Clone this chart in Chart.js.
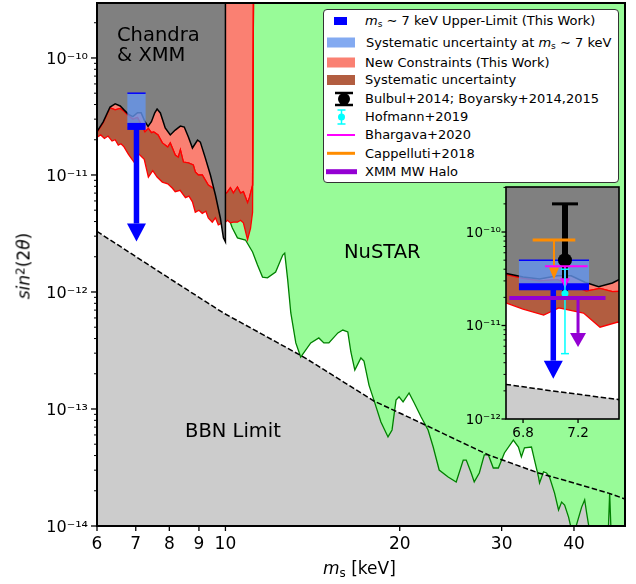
<!DOCTYPE html>
<html>
<head>
<meta charset="utf-8">
<script src="https://cdn.jsdelivr.net/npm/chart.js@4.4.1/dist/chart.umd.min.js"></script>
<style>
  html, body { margin: 0; padding: 0; background: #fff; }
  #wrap { position: relative; width: 636px; height: 584px; font-family: 'DejaVu Sans', sans-serif; color: #000; overflow: hidden; }
  canvas { position: absolute; }
  #main { left: 0; top: 0; }
  #inset { left: 450px; top: 184px; }
  .note { position: absolute; font-size: 19.5px; line-height: 1; white-space: nowrap; }
  .axt { position: absolute; font-size: 17px; line-height: 1; white-space: nowrap; }
  #legend { position: absolute; left: 323px; top: 9px; width: 296px; height: 174px; background: #fff; border: 1px solid #333; border-radius: 4px; box-sizing: border-box; }
  .row { position: absolute; left: 365px; font-size: 13px; line-height: 16px; white-space: nowrap; }
  sub { font-size: 70%; vertical-align: -0.25em; line-height: 0; }
  sup { font-size: 70%; vertical-align: 0.45em; line-height: 0; }
  #handles { position: absolute; left: 0; top: 0; }
</style>
</head>
<body>
<div id="wrap">
  <canvas id="main" width="636" height="584"></canvas>

  <div class="note" style="left:117px; top:25px;">Chandra</div>
  <div class="note" style="left:117px; top:44.5px;">&amp; XMM</div>
  <div class="note" style="left:344px; top:241.5px;">NuSTAR</div>
  <div class="note" style="left:185px; top:420.5px;">BBN Limit</div>

  <div class="axt" style="left:323px; top:559.5px;"><i>m</i><sub>s</sub> [keV]</div>
  <div class="axt" style="left:24px; top:266px; transform: translate(-50%, -50%) rotate(-90deg);"><i>sin</i><sup>2</sup>(2<i>θ</i>)</div>

  <div id="legend"></div>
  <svg id="handles" width="636" height="200">
    <rect x="334" y="17" width="13" height="8" fill="#0000ff"/>
    <rect x="327" y="37.5" width="28" height="10" fill="rgba(100,149,237,0.8)"/>
    <rect x="327" y="57.5" width="28" height="10" fill="#fa8072"/>
    <rect x="327" y="75" width="28" height="10" fill="#b25d40"/>
    <line x1="344" y1="93" x2="344" y2="105" stroke="#000" stroke-width="5"/>
    <line x1="335" y1="93" x2="353" y2="93" stroke="#000" stroke-width="2.5"/>
    <line x1="335" y1="105" x2="353" y2="105" stroke="#000" stroke-width="2.5"/>
    <circle cx="344" cy="99" r="6" fill="#000"/>
    <line x1="341.5" y1="110" x2="341.5" y2="124" stroke="#00ffff" stroke-width="1.5"/>
    <line x1="337.5" y1="110" x2="345.5" y2="110" stroke="#00ffff" stroke-width="1.5"/>
    <line x1="337.5" y1="124" x2="345.5" y2="124" stroke="#00ffff" stroke-width="1.5"/>
    <circle cx="341.5" cy="117" r="3.5" fill="#00ffff"/>
    <line x1="327" y1="135" x2="355" y2="135" stroke="#ff00ff" stroke-width="2"/>
    <line x1="327" y1="153.3" x2="355" y2="153.3" stroke="#ff8c00" stroke-width="3"/>
    <line x1="326" y1="171.7" x2="357" y2="171.7" stroke="#9400d3" stroke-width="5"/>
  </svg>
  <div class="row" style="top:12.5px;"><i>m</i><sub>s</sub> ∼ 7 keV Upper-Limit (This Work)</div>
  <div class="row" style="top:34.5px; left:366px;">Systematic uncertainty at <i>m</i><sub>s</sub> ∼ 7 keV</div>
  <div class="row" style="top:54.5px;">New Constraints (This Work)</div>
  <div class="row" style="top:72px;">Systematic uncertainty</div>
  <div class="row" style="top:91px;">Bulbul+2014; Boyarsky+2014,2015</div>
  <div class="row" style="top:108.5px;">Hofmann+2019</div>
  <div class="row" style="top:127px;">Bhargava+2020</div>
  <div class="row" style="top:145.5px;">Cappelluti+2018</div>
  <div class="row" style="top:163.5px;">XMM MW Halo</div>

  <canvas id="inset" width="172" height="264"></canvas>
</div>

<script>
// Chandra & XMM limit (black curve), keV vs sin^2(2theta)
const chandraX = [6.0, 6.15, 6.32, 6.45, 6.58, 6.68, 6.80, 6.92, 7.05, 7.15, 7.25, 7.35, 7.45, 7.55, 7.62, 7.72, 7.87, 8.03, 8.19, 8.36, 8.49, 8.63, 8.77, 8.95, 9.05, 9.23, 9.42, 9.61, 9.80, 9.92, 10.0, 10.0];
const chandraY = [2.35e-11, 2.84e-11, 3.81e-11, 4.05e-11, 3.89e-11, 3.6e-11, 3.3e-11, 3.15e-11, 3.4e-11, 3.4e-11, 2.9e-11, 2.6e-11, 2.85e-11, 3.4e-11, 3.66e-11, 3.39e-11, 2.52e-11, 2.20e-11, 2.42e-11, 2.62e-11, 2.57e-11, 2.11e-11, 1.70e-11, 1.99e-11, 1.91e-11, 1.40e-11, 1.0e-11, 6.74e-12, 4.29e-12, 2.9e-12, 2.68e-12, 3e-10];

// new constraints: top of systematic band
const upperX = [6.0, 6.15, 6.32, 6.45, 6.58, 6.68, 6.80, 6.92, 7.05, 7.15, 7.26, 7.36, 7.45, 7.52, 7.65, 7.78, 7.95, 8.03, 8.19, 8.29, 8.36, 8.46, 8.63, 8.80, 8.87, 8.98, 9.12, 9.34, 9.60, 9.80, 10.0, 10.08, 10.20, 10.32, 10.49, 10.62, 10.74, 10.92, 11.0, 11.14, 11.18];
const upperY = [2.3e-11, 2.8e-11, 3.75e-11, 3.6e-11, 3.7e-11, 3.5e-11, 3.2e-11, 3.0e-11, 3.1e-11, 2.7e-11, 2.33e-11, 2.5e-11, 2.3e-11, 2.33e-11, 2.2e-11, 1.88e-11, 1.73e-11, 1.88e-11, 1.48e-11, 1.42e-11, 1.64e-11, 1.29e-11, 1.27e-11, 1.22e-11, 1.06e-11, 1.0e-11, 1.0e-11, 8.2e-12, 7.5e-12, 6.7e-12, 6.9e-12, 7.16e-12, 7.78e-12, 7.0e-12, 7.9e-12, 7.0e-12, 7.2e-12, 5.8e-12, 6.4e-12, 8.2e-12, 3e-10];

// new constraints: bottom of systematic band
const lowerX = [6.0, 6.09, 6.18, 6.27, 6.37, 6.45, 6.53, 6.60, 6.68, 6.80, 6.95, 7.06, 7.24, 7.36, 7.49, 7.62, 7.78, 7.95, 8.10, 8.19, 8.35, 8.53, 8.65, 8.77, 8.87, 9.00, 9.12, 9.25, 9.34, 9.49, 9.61, 9.72, 9.88, 10.0, 10.08, 10.20, 10.32, 10.49, 10.62, 10.74, 10.92, 11.05, 11.14, 11.18];
const lowerY = [2.1e-11, 2.2e-11, 2.05e-11, 2.15e-11, 1.95e-11, 2.0e-11, 1.8e-11, 1.85e-11, 1.74e-11, 1.5e-11, 1.29e-11, 1.54e-11, 1.36e-11, 9.6e-12, 1.09e-11, 9.6e-12, 8.7e-12, 8.4e-12, 7.7e-12, 7.2e-12, 7.4e-12, 6.4e-12, 6.6e-12, 5.9e-12, 4.8e-12, 5.0e-12, 4.7e-12, 4.9e-12, 4.3e-12, 3.95e-12, 4.3e-12, 3.75e-12, 3.9e-12, 3.95e-12, 4.1e-12, 3.9e-12, 3.95e-12, 3.95e-12, 4.1e-12, 3.9e-12, 2.8e-12, 3.5e-12, 4.8e-12, 3e-10];

// NuSTAR limit (green)
const nustarX = [10.2, 10.28, 10.49, 10.83, 11.14, 11.36, 11.59, 11.82, 12.21, 12.56, 12.66, 12.81, 12.97, 13.23, 13.49, 14.04, 14.50, 14.79, 15.09, 15.64, 15.95, 16.27, 16.47, 16.73, 17.14, 17.35, 17.70, 18.05, 18.56, 19.09, 19.40, 19.71, 19.95, 20.27, 20.76, 21.18, 21.78, 22.39, 22.85, 23.40, 24.25, 25.04, 25.75, 26.06, 26.58, 26.90, 27.45, 28.00, 28.46, 29.02, 29.61, 30.33, 31.43, 32.07, 32.45, 32.85, 33.78, 34.19, 34.74, 34.88, 35.44, 35.86, 36.29, 37.03, 37.62, 38.08, 38.54, 39.15, 39.47, 40.1, 41.24, 41.74, 42.07, 42.57, 45.85, 46.1, 46.35, 49.0];
const nustarY = [3.9e-12, 3.52e-12, 2.90e-12, 2.78e-12, 2.20e-12, 1.70e-12, 1.34e-12, 1.32e-12, 1.48e-12, 2.07e-12, 2.15e-12, 1.27e-12, 6.62e-13, 3.67e-13, 2.78e-13, 3.67e-13, 4.05e-13, 3.67e-13, 3.67e-13, 4.47e-13, 4.73e-13, 4.55e-13, 3.07e-13, 2.15e-13, 2.73e-13, 2.57e-13, 1.60e-13, 1.19e-13, 7.74e-14, 5.77e-14, 6.62e-14, 1.19e-13, 1.27e-13, 1.15e-13, 1.37e-13, 1.13e-13, 8.55e-14, 6.62e-14, 4.73e-14, 3.01e-14, 2.62e-14, 2.38e-14, 3.66e-14, 3.66e-14, 2.84e-14, 2.38e-14, 2.84e-14, 4.05e-14, 4.05e-14, 3.13e-14, 3.13e-14, 4.21e-14, 5.43e-14, 4.73e-14, 3.89e-14, 4.65e-14, 4.73e-14, 3.66e-14, 2.62e-14, 2.33e-14, 2.90e-14, 2.84e-14, 2.62e-14, 1.91e-14, 1.37e-14, 1.60e-14, 1.51e-14, 1.19e-14, 1.0e-14, 9e-15, 1.45e-14, 1.67e-14, 1.29e-14, 9e-15, 9e-15, 1.91e-14, 9e-15, 9e-15];

// BBN limit (dashed)
const bbnX = [6.0, 6.5, 7.0, 7.5, 8.0, 9.0, 9.92, 11.5, 13.65, 16.0, 18.05, 21.78, 25.0, 28.46, 34.74, 40.0, 45.9, 49.0];
const bbnY = [3.29e-12, 2.55e-12, 2.01e-12, 1.61e-12, 1.31e-12, 9.0e-13, 6.62e-13, 4.43e-13, 2.78e-13, 1.70e-13, 1.17e-13, 7.59e-14, 5.48e-14, 4.05e-14, 2.84e-14, 2.33e-14, 1.91e-14, 1.70e-14];

// 7 keV line results
const sysBox = [6.77, 7.28, 2.6e-11, 5.0e-11];          // x0, x1, y0, y1
const thisLimit = [6.77, 7.28, 2.6e-11, 7.02, 2.7e-12]; // x0, x1, limit, arrow x, arrow tip
const bulbul = [7.105, 5.0e-11, 1.97e-11, 2.0e-10];     // x, y, low, high
const hofmann = [7.105, 2.2e-11, 5.0e-12, 4.0e-11];
const bhargava = [6.96, 7.27, 4.3e-11, 7.105, 2.5e-11]; // x0, x1, limit, arrow x, arrow tip
const cappelluti = [6.87, 7.18, 8.2e-11, 7.025, 3.1e-11];
const xmmHalo = [6.70, 7.40, 1.97e-11, 7.2, 5.9e-12];

// ticks
const xTicks = [6, 7, 8, 9, 10, 20, 30, 40];
const yTicks = [1e-14, 1e-13, 1e-12, 1e-11, 1e-10];
const insetXTicks = [6.8, 7.2];
const insetYTicks = [1e-12, 1e-11, 1e-10];

Chart.defaults.font.family = "'DejaVu Sans', sans-serif";
Chart.defaults.color = '#000';

const xy = (xs, ys) => xs.map((x, i) => ({ x: x, y: ys[i] }));

const SUP = { '-': '⁻', '0': '⁰', '1': '¹', '2': '²', '3': '³', '4': '⁴', '5': '⁵', '6': '⁶', '7': '⁷', '8': '⁸', '9': '⁹' };
function pow10Label(v) {
    const e = Math.round(Math.log10(v));
    return '10' + String(e).split('').map(c => SUP[c]).join('');
}

function minorLogTicks(min, max) {
    const out = [];
    for (let e = Math.floor(Math.log10(min)); e <= Math.ceil(Math.log10(max)); e++) {
        for (let m = 2; m <= 9; m++) {
            const v = m * Math.pow(10, e);
            if (v > min && v < max) out.push(v);
        }
    }
    return out;
}

// tick marks + frame per canvas
const axisCfg = {
    main:  { xTicks: xTicks, yTicks: yTicks, xLen: 5, yLen: 6, yMinorLen: 3, frame: 2, white: false },
    inset: { xTicks: insetXTicks, yTicks: insetYTicks, xLen: 4, yLen: 4.5, yMinorLen: 2.5, frame: 1.6, white: true }
};

function seg(ctx, x0, y0, x1, y1) {
    ctx.beginPath(); ctx.moveTo(x0, y0); ctx.lineTo(x1, y1); ctx.stroke();
}

const framePlugin = {
    id: 'frame',
    beforeDatasetsDraw(chart) {
        const cfg = axisCfg[chart.canvas.id];
        if (!cfg.white) return;
        const a = chart.chartArea, ctx = chart.ctx;
        ctx.save();
        ctx.fillStyle = '#fff';
        ctx.fillRect(a.left, a.top, a.right - a.left, a.bottom - a.top);
        ctx.restore();
    },
    afterDraw(chart) {
        const cfg = axisCfg[chart.canvas.id];
        const ctx = chart.ctx, a = chart.chartArea;
        const xs = chart.scales.x, ys = chart.scales.y;
        ctx.save();
        ctx.strokeStyle = '#000';
        ctx.lineWidth = 1.3;
        cfg.xTicks.forEach(v => { const p = xs.getPixelForValue(v); seg(ctx, p, a.bottom, p, a.bottom + cfg.xLen); });
        cfg.yTicks.forEach(v => { const p = ys.getPixelForValue(v); seg(ctx, a.left, p, a.left - cfg.yLen, p); });
        ctx.lineWidth = 1;
        minorLogTicks(ys.min, ys.max).forEach(v => { const p = ys.getPixelForValue(v); seg(ctx, a.left, p, a.left - cfg.yMinorLen, p); });
        ctx.lineWidth = cfg.frame;
        ctx.strokeRect(a.left, a.top, a.right - a.left, a.bottom - a.top);
        ctx.restore();
    }
};

function hbar(ctx, x0, x1, y, w, color) {
    ctx.strokeStyle = color; ctx.lineWidth = w; ctx.lineCap = 'butt';
    seg(ctx, x0, y, x1, y);
}
function arrowDown(ctx, x, y0, y1, shaft, headW, headL, color) {
    ctx.fillStyle = color;
    ctx.fillRect(x - shaft / 2, y0, shaft, (y1 - headL) - y0);
    ctx.beginPath();
    ctx.moveTo(x - headW / 2, y1 - headL);
    ctx.lineTo(x + headW / 2, y1 - headL);
    ctx.lineTo(x, y1);
    ctx.closePath();
    ctx.fill();
}
function errorbar(ctx, X, Y, d, lw, cap, capW, r, color) {
    const x = X(d[0]);
    hbar(ctx, x, x, 0, 0, color);
    ctx.strokeStyle = color; ctx.lineWidth = lw;
    seg(ctx, x, Y(d[3]), x, Y(d[2]));
    hbar(ctx, x - cap, x + cap, Y(d[3]), capW, color);
    hbar(ctx, x - cap, x + cap, Y(d[2]), capW, color);
    ctx.fillStyle = color;
    ctx.beginPath(); ctx.arc(x, Y(d[1]), r, 0, Math.PI * 2); ctx.fill();
}
function limitArrow(ctx, X, Y, d, barW, shaft, headW, headL, color) {
    hbar(ctx, X(d[0]), X(d[1]), Y(d[2]), barW, color);
    arrowDown(ctx, X(d[3]), Y(d[2]), Y(d[4]), shaft, headW, headL, color);
}

const markerPlugin = {
    id: 'markers',
    afterDatasetsDraw(chart) {
        const inset = chart.canvas.id === 'inset';
        const ctx = chart.ctx, a = chart.chartArea;
        const X = v => chart.scales.x.getPixelForValue(v);
        const Y = v => chart.scales.y.getPixelForValue(v);
        ctx.save();
        ctx.beginPath(); ctx.rect(a.left, a.top, a.right - a.left, a.bottom - a.top); ctx.clip();

        ctx.fillStyle = 'rgba(100,149,237,0.8)';
        ctx.fillRect(X(sysBox[0]), Y(sysBox[3]), X(sysBox[1]) - X(sysBox[0]), Y(sysBox[2]) - Y(sysBox[3]));
        hbar(ctx, X(sysBox[0]), X(sysBox[1]), Y(sysBox[3]), 1.5, '#0000ff');

        if (inset) errorbar(ctx, X, Y, bulbul, 6, 13, 3, 7, '#000');
        limitArrow(ctx, X, Y, thisLimit, 7, 5.5, 19, 18, '#0000ff');

        if (inset) {
            limitArrow(ctx, X, Y, cappelluti, 3, 2, 10, 12, '#ff8c00');
            limitArrow(ctx, X, Y, bhargava, 2, 2, 10, 10, '#ff00ff');
            errorbar(ctx, X, Y, hofmann, 1.5, 4, 1.5, 3.5, '#00ffff');
            limitArrow(ctx, X, Y, xmmHalo, 4, 3, 16, 14, '#9400d3');
        }
        ctx.restore();
    }
};

function regionDatasets(withNustar) {
    const sets = [];
    sets.push({ label: 'BBN Limit', data: xy(bbnX, bbnY), fill: 'start', backgroundColor: '#cccccc', borderWidth: 0, order: 10 });
    if (withNustar) {
        sets.push({ label: 'NuSTAR', data: xy(nustarX, nustarY), fill: 'end', backgroundColor: '#98fb98', borderColor: '#008000', borderWidth: 1.3, order: 9 });
    }
    sets.push({ label: 'BBN line', data: xy(bbnX, bbnY), fill: false, borderColor: '#000', borderWidth: 1.5, borderDash: [5.5, 2.5], order: 8 });
    const upIdx = sets.length;
    sets.push({ label: 'New Constraints (This Work)', data: xy(upperX, upperY), fill: 'end', backgroundColor: '#fa8072', borderColor: '#ff0000', borderWidth: 1.3, order: 7 });
    sets.push({ label: 'Systematic uncertainty', data: xy(lowerX, lowerY), fill: upIdx, backgroundColor: '#b25d40', borderColor: '#ff0000', borderWidth: 1.3, order: 6 });
    sets.push({ label: 'upper edge', data: xy(upperX, upperY), fill: false, borderColor: '#ff0000', borderWidth: 1.3, order: 5 });
    sets.push({ label: 'Chandra & XMM', data: xy(chandraX, chandraY), fill: 'end', backgroundColor: '#808080', borderColor: '#000', borderWidth: 1.5, order: 4 });
    return sets;
}

function makeChart(id, opt) {
    return new Chart(document.getElementById(id), {
        type: 'line',
        data: { datasets: regionDatasets(opt.nustar) },
        plugins: [framePlugin, markerPlugin],
        options: {
            responsive: false,
            devicePixelRatio: 1,
            animation: false,
            events: [],
            layout: { padding: opt.padding },
            elements: { point: { radius: 0 }, line: { tension: 0 } },
            plugins: { legend: { display: false }, tooltip: { enabled: false } },
            scales: {
                x: {
                    type: opt.xType, min: opt.xMin, max: opt.xMax,
                    grid: { display: false, drawTicks: false }, border: { display: false },
                    ticks: { autoSkip: false, maxRotation: 0, minRotation: 0, padding: opt.xPad, font: { size: opt.xFont }, callback: v => String(v) },
                    afterBuildTicks: s => { s.ticks = opt.xTicks.map(v => ({ value: v })); },
                    afterFit: s => { s.height = opt.xHeight; s.paddingLeft = 0; s.paddingRight = 0; }
                },
                y: {
                    type: 'logarithmic', min: opt.yMin, max: opt.yMax,
                    grid: { display: false, drawTicks: false }, border: { display: false },
                    ticks: { autoSkip: false, padding: opt.yPad, labelOffset: opt.yOff, font: { size: opt.yFont }, callback: v => pow10Label(v) },
                    afterBuildTicks: s => { s.ticks = opt.yTicks.map(v => ({ value: v })); },
                    afterFit: s => { s.width = opt.yWidth; s.paddingTop = 0; s.paddingBottom = 0; }
                }
            }
        }
    });
}

makeChart('main', {
    nustar: true, padding: { top: 3, right: 11, left: 0, bottom: 0 },
    xType: 'logarithmic', xMin: 6, xMax: 49, xTicks: xTicks, xPad: 8, xFont: 17, xHeight: 58,
    yMin: 1e-14, yMax: 2.95e-10, yTicks: yTicks, yPad: 9, yOff: 2, yFont: 16, yWidth: 97
});

makeChart('inset', {
    nustar: false, padding: { top: 3, right: 3, left: 0, bottom: 0 },
    xType: 'linear', xMin: 6.676, xMax: 7.498, xTicks: insetXTicks, xPad: 6, xFont: 13.5, xHeight: 29,
    yMin: 1e-12, yMax: 3.03e-10, yTicks: insetYTicks, yPad: 5, yOff: 1, yFont: 13.5, yWidth: 56
});
</script>
</body>
</html>
